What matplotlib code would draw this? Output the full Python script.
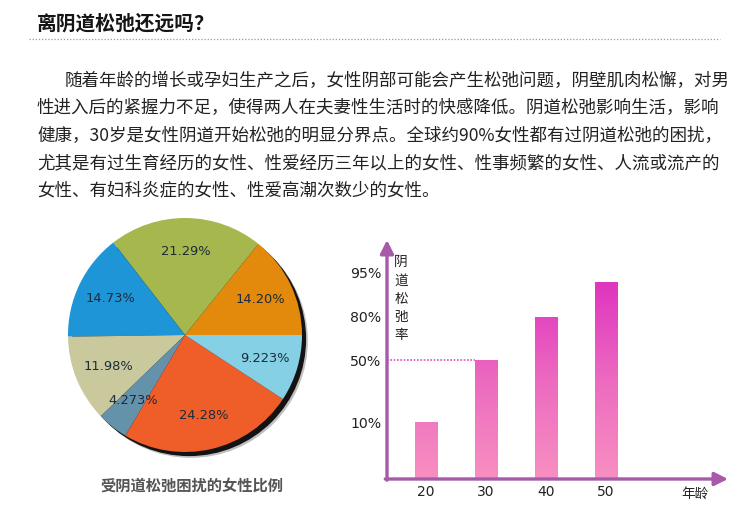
import numpy as np
import matplotlib
matplotlib.use("Agg")
import matplotlib.pyplot as plt
from matplotlib.colors import LinearSegmentedColormap
from matplotlib.lines import Line2D
from matplotlib.patches import Circle

plt.rcParams['font.family'] = ['Noto Sans CJK SC', 'DejaVu Sans']

W, H = 750, 512

# Page text
title = "离阴道松弛还远吗？"
para_lines = [
    "随着年龄的增长或孕妇生产之后，女性阴部可能会产生松弛问题，阴壁肌肉松懈，对男",
    "性进入后的紧握力不足，使得两人在夫妻性生活时的快感降低。阴道松弛影响生活，影响",
    "健康，30岁是女性阴道开始松弛的明显分界点。全球约90%女性都有过阴道松弛的困扰，",
    "尤其是有过生育经历的女性、性爱经历三年以上的女性、性事频繁的女性、人流或流产的",
    "女性、有妇科炎症的女性、性爱高潮次数少的女性。",
]

# Pie data (counter-clockwise from 3 o'clock)
pie_values = [14.20, 21.29, 14.73, 11.98, 4.273, 24.28, 9.223]
pie_colors = ['#e3890b', '#a6b74d', '#1e95d7', '#c9c99d', '#6592ab', '#ef5e29', '#86d0e5']
pie_caption = "受阴道松弛困扰的女性比例"

# Bar data
ages = [20, 30, 40, 50]
loose_rate = [10, 50, 80, 92]
ytick_vals = [10, 50, 80, 95]
ytick_labels = ['10%', '50%', '80%', '95%']
y_label = "阴道松弛率"
x_label = "年龄"

# the original axis is drawn with uneven tick spacing
scale_vals = [0, 10, 50, 80, 95, 120]
scale_units = [0, 57, 119, 162, 206, 243]


def px_rect(x0, y0, x1, y1):
    return [x0 / W, 1 - y1 / H, (x1 - x0) / W, (y1 - y0) / H]


def ftext(x, y, s, **kw):
    return fig.text(x / W, 1 - y / H, s, **kw)


fig = plt.figure(figsize=(7.5, 5.12), dpi=100)
fig.patch.set_facecolor('white')

# header
ftext(37, 24, title, fontsize=14.2, weight='bold', color='#151515', va='center', ha='left')
fig.add_artist(Line2D([29 / W, 720 / W], [1 - 39 / H, 1 - 39 / H], transform=fig.transFigure,
                      color='#9a9a9a', lw=0.9, ls=(0, (1, 1.5))))

line_y = [81, 108, 136, 163, 190]
for i, (s, y) in enumerate(zip(para_lines, line_y)):
    x = 65 if i == 0 else 37
    ftext(x, y, s, fontsize=12.6, color='#222222', va='center', ha='left')

# pie chart
r_px = 117
cx, cy = 185, 335
pad = 1.1
ax1 = fig.add_axes(px_rect(cx - r_px * pad, cy - r_px * pad, cx + r_px * pad, cy + r_px * pad))
ax1.add_patch(Circle((0.05, -0.05), 1.0, color='black', alpha=0.25, zorder=0, lw=0))
ax1.add_patch(Circle((0.035, -0.035), 1.0, color='black', alpha=0.9, zorder=0, lw=0))
pct_labels = [f"{v:#.4g}%" for v in pie_values]
wedges, texts = ax1.pie(pie_values, colors=pie_colors, startangle=0, counterclock=True,
                        labels=pct_labels, labeldistance=0.71,
                        wedgeprops=dict(linewidth=0, zorder=2),
                        textprops=dict(fontsize=9.4, color='#1d2b3a', family='DejaVu Sans'))
for t in texts:
    t.set_ha('center')
    t.set_va('center')
    t.set_zorder(5)
ax1.set_xlim(-pad, pad)
ax1.set_ylim(-pad, pad)
ax1.set_aspect('equal')
ax1.axis('off')

ftext(192, 486, pie_caption, fontsize=11, weight='bold', color='#555555', va='center', ha='center')

# bar chart
purple = '#a65aa9'
ax2 = fig.add_axes(px_rect(387, 240, 728, 479))
fwd = lambda v: np.interp(v, scale_vals, scale_units)
inv = lambda u: np.interp(u, scale_units, scale_vals)
ax2.set_yscale('function', functions=(fwd, inv))

bar_w = 3.8
bars = ax2.bar(ages, loose_rate, width=bar_w, color='none', edgecolor='none', zorder=2)
cmap = LinearSegmentedColormap.from_list('pinks', ['#f78fc0', '#ec6ac0', '#df33bf'])
grad = np.linspace(0, 1.2, 256).reshape(-1, 1)
for b in bars:
    im = ax2.imshow(grad, cmap=cmap, vmin=0, vmax=1, extent=(0, 1, 0, 1), origin='lower',
                    aspect='auto', transform=ax2.transAxes, zorder=2, interpolation='bilinear')
    im.set_clip_path(b)

ax2.set_xlim(13.5, 70.3)
ax2.set_ylim(0, inv(239))

ax2.hlines(50, 13.5, ages[1] - bar_w / 2, colors='#e24cc2', linestyles=(0, (1, 1)), lw=1.2, zorder=3)

for sp in ax2.spines.values():
    sp.set_visible(False)
ax2.annotate('', xy=(1, 0), xytext=(-0.005, 0), xycoords='axes fraction',
             arrowprops=dict(arrowstyle='-|>', color=purple, lw=2.4, mutation_scale=20,
                             shrinkA=0, shrinkB=0), zorder=4, annotation_clip=False)
ax2.annotate('', xy=(0, 1), xytext=(0, -0.005), xycoords='axes fraction',
             arrowprops=dict(arrowstyle='-|>', color=purple, lw=2.4, mutation_scale=20,
                             shrinkA=0, shrinkB=0), zorder=4, annotation_clip=False)

ax2.set_xticks(ages)
ax2.set_xticklabels([str(a) for a in ages], fontsize=10, color='#222222', family='DejaVu Sans')
ax2.set_yticks(ytick_vals)
ax2.set_yticklabels(ytick_labels, fontsize=10.2, color='#222222', family='DejaVu Sans')
ax2.minorticks_off()
ax2.tick_params(axis='both', length=0)
ax2.tick_params(axis='x', pad=4)
ax2.tick_params(axis='y', pad=4)
ax2.patch.set_alpha(0)

for i, ch in enumerate(y_label):
    ftext(401, 262 + i * 18.3, ch, fontsize=9.8, color='#222222', va='center', ha='center')
ftext(695, 494, x_label, fontsize=9.8, color='#222222', va='center', ha='center')

fig.savefig('out.png', dpi=100)
